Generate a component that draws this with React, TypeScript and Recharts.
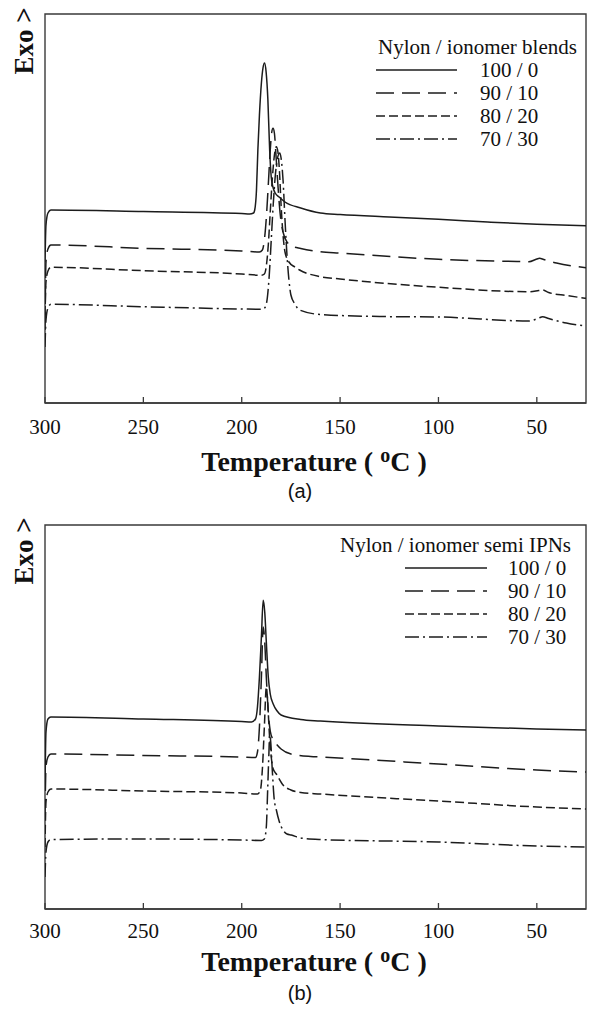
import { LineChart, Line, XAxis, YAxis, Legend, ReferenceArea } from 'recharts'

const SERIF = '"Liberation Serif", "Times New Roman", serif'
const SANS = '"Liberation Sans", Arial, sans-serif'
const INK = '#1c1c1c'
const AXIS = '#3a3a3a'

const tempTicks = [300, 250, 200, 150, 100, 50]
const ratios = ['100 / 0', '90 / 10', '80 / 20', '70 / 30']
const dashes = [undefined, '18 8', '9 4', '14 4 2 4']

// (a) blends — [temperature °C, heat flow a.u.]
const blend100 = [[300,141],[299.5,178],[298.5,190],[297,193],[250,191.5],[200,189.5],[196,189],[194,190],[193.4,193],[192.5,213],[191.8,253],[191,288],[190,320],[189.2,335],[188.4,340],[187.6,331],[186.7,303],[185.8,253],[185,226],[184,215],[183,210],[181,206],[178,201],[170,195],[160,190],[150,188.5],[125,186],[100,183.7],[75,181],[50,178.7],[25,177.3]]
const blend90 = [[300,73],[299.5,141],[298.5,154],[297,158],[250,154.7],[200,152],[191,151],[189.5,153],[188.5,163],[187.5,185],[186.5,218],[185.5,253],[184.8,270],[184.1,274.7],[183.4,270],[182.5,245],[181.5,215],[180.5,190],[179,171],[177,161],[174,156.5],[170,154.5],[160,151.3],[150,150],[100,143.7],[60,141.5],[54,141.3],[50,144],[48.6,144.7],[46.5,143.5],[40,140],[25,135.3]]
const blend80 = [[300,88],[299.5,121],[298.5,132],[297,135.7],[250,132.3],[200,129],[190,127.7],[188.5,129],[187.5,137],[186.5,158],[185.5,191],[184.5,223],[183.5,246],[182.4,256.3],[181.6,251],[180.8,231],[180,198],[179,168],[178,151],[176,141],[173,136],[170.6,133],[160,126.3],[150,124],[100,115.7],[54,111.3],[49,112.5],[47.1,113],[44,110.5],[35,107.5],[25,104.7]]
const blend70 = [[300,56],[299.5,83],[298.5,95],[297,98.7],[250,96.3],[200,94],[189.5,93.7],[188,96],[187,105],[186,128],[185,163],[184,198],[183,226],[182,243],[180.7,250],[180,245],[179,223],[178,183],[177,148],[176,123],[175,108],[173,99],[170.6,93],[160,88.5],[130,86.5],[100,86],[54,82],[49,85],[47.1,86.3],[44,84.5],[35,80],[25,77]]

// (b) semi IPNs
const ipn100 = [[300,122],[299.5,177],[298.5,190],[297,192],[250,190],[200,187.5],[195,187],[193,190],[192,202],[191,232],[190,272],[189.1,308.7],[188.3,297],[187.5,267],[186.5,232],[185.5,215],[184,205],[182,198],[180,194],[170,189.5],[160,188],[100,183],[50,180],[25,179]]
const ipn90 = [[300,92],[299.5,142],[298.5,152],[297,155],[250,153.5],[200,152],[193,151.5],[192,157],[191,182],[190,232],[189.1,282],[188.3,267],[187.5,232],[186.5,197],[185.5,178],[184,169],[182,164],[180,160],[175,155],[165,152.5],[160,152],[100,145],[50,139],[25,137]]
const ipn80 = [[300,62],[299.5,107],[298.5,117],[297,120],[250,118],[200,116],[192,115],[190.5,119],[189.5,140],[188.5,182],[187.5,222],[186.8,207],[186,177],[185,152],[184,140],[182.4,135],[179,124],[175,119],[170,116.5],[160,115],[100,108],[50,102],[25,100]]
const ipn70 = [[300,32],[299.5,57],[298.5,67],[297,69.5],[250,70],[200,69],[190,68.5],[188.5,70],[187.5,82],[186.8,120],[186.2,155],[185.8,174],[185.3,168],[184.5,140],[183.5,110],[182.4,99],[181,88],[179,79],[177,75],[174.8,74],[170,71],[160,69.5],[100,67],[50,63],[25,62]]

const toPts = (arr: number[][]) => arr.map(([t, v]) => ({ t, v }))

const panels = [
  {
    top: 0, height: 505, plotTop: 14, plotBottom: 403, yMax: 389, tickOff: 24,
    series: [blend100, blend90, blend80, blend70],
    legendTitle: 'Nylon / ionomer blends',
    titleX: 378, titleY: 47, lineX: 376, lineW: 81, textX: 480, rowY: 70, rowGap: 23,
    exoY: 41, axisTitleY: 462, caption: '(a)', captionY: 491,
  },
  {
    top: 505, height: 507, plotTop: 20, plotBottom: 404, yMax: 384, tickOff: 22,
    series: [ipn100, ipn90, ipn80, ipn70],
    legendTitle: 'Nylon / ionomer semi IPNs',
    titleX: 340, titleY: 40, lineX: 405, lineW: 82, textX: 508, rowY: 63, rowGap: 23,
    exoY: 46, axisTitleY: 457, caption: '(b)', captionY: 488,
  },
]

function TempTick(props: any) {
  const { x, y, payload, off } = props
  return (
    <g>
      <line x1={x} x2={x} y1={y} y2={y - 6} stroke={AXIS} strokeWidth={1.3} />
      <text x={x} y={y + off} textAnchor="middle" dominantBaseline="central" fontFamily={SERIF} fontSize={21} fill="#111">
        {payload.value}
      </text>
    </g>
  )
}

function LegendBox({ p }: { p: any }) {
  return (
    <div style={{ position: 'relative', width: 591, height: 0, fontFamily: SERIF, fontSize: 21, color: '#111' }}>
      <div style={{ position: 'absolute', left: p.titleX, top: p.titleY - 12, lineHeight: '24px', whiteSpace: 'nowrap' }}>{p.legendTitle}</div>
      {ratios.map((r, i) => {
        const cy = p.rowY + i * p.rowGap
        return (
          <div key={r}>
            <svg style={{ position: 'absolute', left: p.lineX, top: cy - 3 }} width={p.lineW} height={6}>
              <line x1={0} x2={p.lineW} y1={3} y2={3} stroke={INK} strokeWidth={1.5} strokeDasharray={dashes[i]} />
            </svg>
            <div style={{ position: 'absolute', left: p.textX, top: cy - 12, lineHeight: '24px', whiteSpace: 'nowrap' }}>{r}</div>
          </div>
        )
      })}
    </div>
  )
}

function Panel({ p }: { p: any }) {
  const axisLine = { stroke: AXIS, strokeWidth: 1.4 }
  return (
    <div style={{ position: 'absolute', left: 0, top: p.top, width: 591, height: p.height }}>
      <LineChart width={591} height={p.height} margin={{ top: p.plotTop, right: 5, left: 45, bottom: p.height - p.plotBottom - 30 }}>
        <XAxis xAxisId="b" type="number" dataKey="t" domain={[25, 300]} reversed ticks={tempTicks} interval={0} height={30}
          tickSize={0} tickMargin={0} tickLine={false} axisLine={axisLine}
          tick={(tp: any) => <TempTick {...tp} off={p.tickOff} />} allowDataOverflow />
        <YAxis yAxisId="l" type="number" domain={[0, p.yMax]} width={0} tick={false} tickLine={false} axisLine={axisLine} allowDataOverflow />
        <ReferenceArea xAxisId="b" yAxisId="l" x1={300} x2={25} y1={0} y2={p.yMax} fill="none" fillOpacity={0}
          stroke={AXIS} strokeWidth={1.4} ifOverflow="visible" />
        {p.series.map((s: number[][], i: number) => (
          <Line key={ratios[i]} name={ratios[i]} xAxisId="b" yAxisId="l" data={toPts(s)} dataKey="v" type="monotone"
            stroke={INK} strokeWidth={1.5} strokeDasharray={dashes[i]} dot={false} activeDot={false} isAnimationActive={false} />
        ))}
        <Legend layout="vertical" align="center" verticalAlign="middle"
          wrapperStyle={{ position: 'absolute', left: 0, top: 0, width: 591, height: 0 }}
          content={() => <LegendBox p={p} />} />
      </LineChart>
      <div style={{ position: 'absolute', left: 24, top: p.exoY, transform: 'translate(-50%, -50%) rotate(-90deg)',
        fontFamily: SERIF, fontWeight: 'bold', fontSize: 27, whiteSpace: 'nowrap', color: '#111' }}>Exo &gt;</div>
      <div style={{ position: 'absolute', left: 314, top: p.axisTitleY, transform: 'translate(-50%, -50%)',
        fontFamily: SERIF, fontWeight: 'bold', fontSize: 28, whiteSpace: 'nowrap', color: '#111' }}>
        Temperature ( <span style={{ fontSize: 20, position: 'relative', top: -9 }}>o</span>C )
      </div>
      <div style={{ position: 'absolute', left: 300, top: p.captionY, transform: 'translate(-50%, -50%)',
        fontFamily: SANS, fontSize: 20, whiteSpace: 'nowrap', color: '#111' }}>{p.caption}</div>
    </div>
  )
}

export default function App() {
  return (
    <div style={{ position: 'absolute', left: 0, top: 0, width: 591, height: 1012, background: '#fff' }}>
      {panels.map((p) => <Panel key={p.caption} p={p} />)}
    </div>
  )
}
